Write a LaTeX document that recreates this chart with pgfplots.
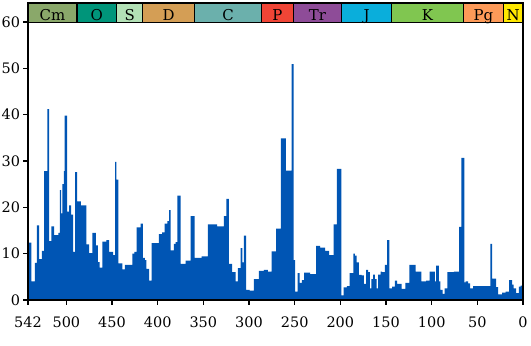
\documentclass[border=0pt]{standalone}
\usepackage{fontspec}
\setmainfont{DejaVu Serif}
\usepackage{pgfplots}
\pgfplotsset{compat=1.18}
\definecolor{barblue}{HTML}{0055B4}
\definecolor{cCm}{HTML}{8AA86A}
\definecolor{cO}{HTML}{00957A}
\definecolor{cS}{HTML}{B3E1B6}
\definecolor{cD}{HTML}{D49E55}
\definecolor{cC}{HTML}{6BB0AC}
\definecolor{cP}{HTML}{F04536}
\definecolor{cTr}{HTML}{8E4C98}
\definecolor{cJ}{HTML}{0AAEDB}
\definecolor{cK}{HTML}{80C650}
\definecolor{cPg}{HTML}{FD9A58}
\definecolor{cN}{HTML}{FFE800}
\newcommand{\period}[4]{%
  \draw[fill=#3, line width=1.4bp] (axis cs:#1,59.9) rectangle (axis cs:#2,64.1);
  \node[anchor=base, inner sep=0pt, font=\fontsize{15}{17}\selectfont] at (axis cs:{(#1+#2)/2},60.4) {#4};
}
\begin{document}
\begin{tikzpicture}
\begin{axis}[
  at={(28bp,46bp)}, anchor=south west,
  scale only axis, width=495bp, height=297bp,
  xmin=0, xmax=542, ymin=0, ymax=64.1,
  x dir=reverse,
  axis line style={line width=1.6bp},
  tick style={line width=1.3bp, black},
  tick align=outside, tick pos=left,
  major tick length=4.5bp,
  xtick={542,500,450,400,350,300,250,200,150,100,50,0},
  ytick={0,10,20,30,40,50,60},
  tick label style={font=\fontsize{14.5}{17}\selectfont},
  xticklabel style={yshift=-9bp},
  /pgf/number format/assume math mode=true,
  clip=false, axis on top,
]
\addplot[const plot, fill=barblue, draw=none] coordinates {
(542,12.4) (538.3,4.0) (534.6,8.0) (532.4,16.1) (529.9,8.8) (526.9,10.6)
(524.4,27.8) (520.8,41.2) (518.9,12.7) (516.4,15.9) (513.5,14.0) (508.8,14.5)
(507.2,23.7) (505.8,18.7) (504.4,25.0) (502.8,27.8) (501.8,39.8) (499.2,19.1)
(497.0,20.4) (494.8,18.4) (492.7,10.4) (490.5,27.6) (488.3,21.3) (484.2,20.4)
(478.1,12.0) (475.2,10.1) (471.6,14.5) (467.8,11.8) (465.6,8.2) (463.5,7.0)
(460.6,12.6) (456.2,12.9) (453.3,10.4) (448.9,9.7) (446.7,29.8) (445.3,26.0)
(443.1,7.9) (438.7,6.6) (435.8,7.6) (427.8,10.0) (425.6,10.4) (423.0,15.7)
(418.6,16.5) (416.1,9.1) (413.9,8.6) (412.5,6.7) (409.5,4.2) (406.6,12.3)
(398.6,14.2) (395.0,14.6) (392.3,16.5) (389.5,17.0) (387.6,19.4) (385.8,10.7)
(382.2,12.1) (380.3,12.5) (378.3,22.5) (374.8,7.8) (369.4,8.5) (363.9,18.1)
(359.5,9.1) (351.9,9.4) (345.0,16.3) (334.8,15.9) (327.5,18.1) (324.9,21.8)
(322.0,7.8) (318.4,6.0) (314.7,4.0) (312.1,6.9) (309.2,11.2) (307.4,8.1)
(305.6,13.9) (303.1,2.2) (299.3,2.0) (294.6,4.5) (289.2,6.3) (283.7,6.5)
(279.3,6.1) (275.3,10.5) (270.4,15.4) (265.1,34.9) (259.6,27.9) (253.4,50.9)
(251.2,8.6) (249.5,1.8) (246.8,5.8) (244.6,3.7) (242.1,4.3) (239.6,5.9)
(233.0,5.6) (226.5,11.7) (222.1,11.3) (216.6,10.6) (212.3,9.7) (207.4,16.3)
(203.8,28.3) (198.9,1.0) (196.5,2.7) (192.9,3.0) (189.9,5.8) (185.8,10.0)
(184.1,9.6) (182.3,8.1) (179.8,5.4) (176.8,5.3) (174.3,3.5) (171.8,6.5)
(169.6,6.0) (167.7,2.5) (165.9,4.5) (164.1,5.5) (162.3,4.5) (160.4,2.5)
(158.6,5.5) (156.0,6.1) (154.3,6.0) (151.3,7.6) (148.8,12.9) (146.2,2.5)
(143.3,2.9) (140.4,4.2) (137.9,3.5) (133.0,2.4) (128.7,3.7) (124.3,7.6)
(117.7,6.1) (111.2,4.0) (106.1,4.2) (102.1,6.1) (96.6,4.0) (95.2,7.4)
(92.2,4.0) (90.4,2.2) (87.9,1.3) (85.7,2.5) (82.9,6.0) (75.8,6.1)
(70.0,15.8) (67.4,30.7) (64.3,3.8) (62.7,4.0) (60.2,3.6) (58.0,2.5)
(54.7,3.0) (35.7,12.1) (33.7,4.6) (29.3,2.8) (27.1,1.2) (22.8,1.6)
(18.9,1.8) (15.3,4.3) (12.0,3.3) (10.2,2.5) (7.4,1.5) (4.4,2.9)
(2.5,3.1) (0,3.1)
} \closedcycle;
\period{542}{488.5}{cCm}{Cm}
\period{488.5}{444.8}{cO}{O}
\period{444.8}{416.4}{cS}{S}
\period{416.4}{359.5}{cD}{D}
\period{359.5}{286.5}{cC}{C}
\period{286.5}{251.2}{cP}{P}
\period{251.2}{198.7}{cTr}{Tr}
\period{198.7}{144.0}{cJ}{J}
\period{144.0}{65.3}{cK}{K}
\period{65.3}{21.6}{cPg}{Pg}
\period{21.6}{0}{cN}{N}
\end{axis}
\pgfresetboundingbox
\useasboundingbox (0,0) rectangle (531bp,346bp);
\end{tikzpicture}
\end{document}
